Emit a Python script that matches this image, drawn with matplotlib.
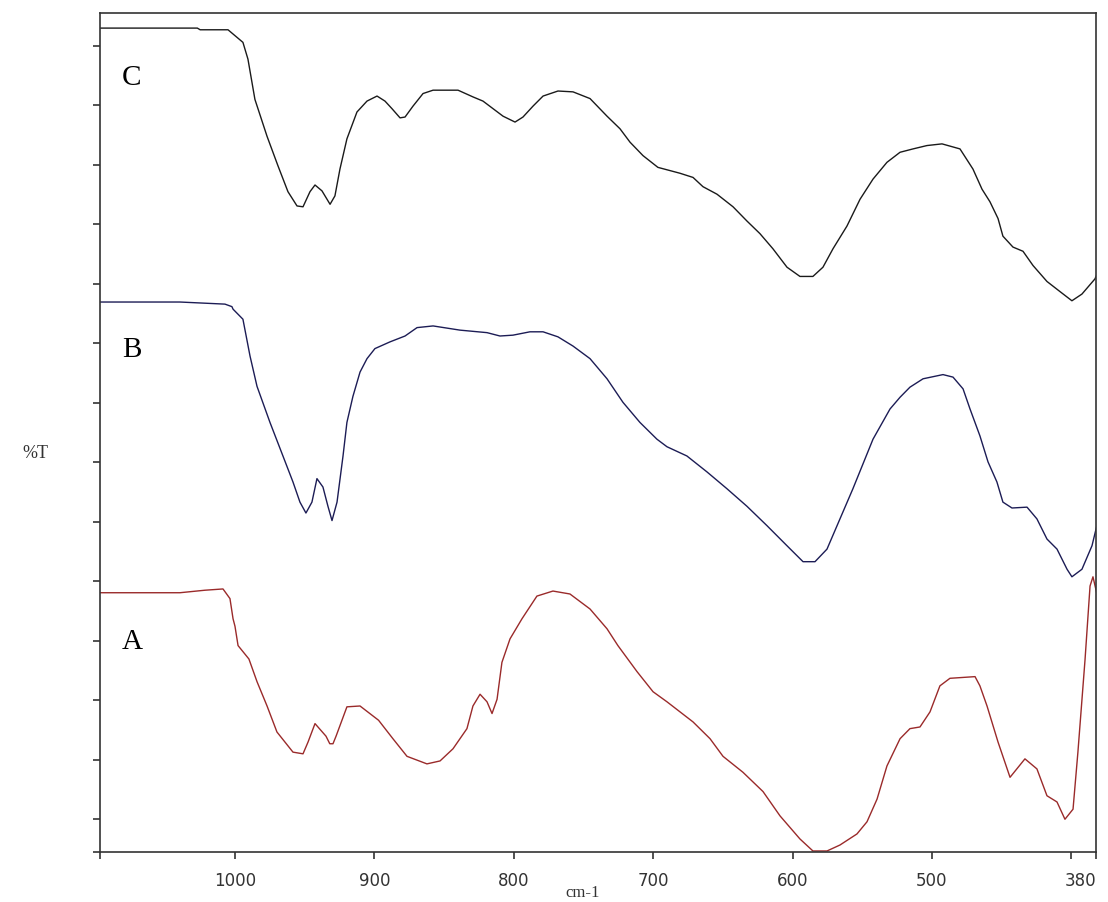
import numpy as np
import matplotlib
matplotlib.use('Agg')
from matplotlib import pyplot as plt

# wavenumber (cm-1) / %T
wn_c = [1097, 1027, 1025, 1005, 994.3, 990.7, 985.7, 977.0, 969.2, 962.0, 955.5, 951.2,
        946.2, 942.6, 937.6, 931.8, 928.3, 924.7, 919.7, 912.5, 905.3, 898.1, 892.4,
        887.4, 881.6, 878.0, 872.3, 865.1, 857.9, 840.0, 829.3, 822.1, 814.9, 807.7,
        799.1, 793.4, 786.2, 779.0, 768.3, 757.5, 745.3, 733.1, 723.8, 716.6, 707.3,
        696.6, 680.8, 671.4, 664.3, 654.2, 642.7, 632.7, 623.4, 614.1, 604.0, 594.7,
        585.4, 578.2, 571.0, 561.0, 551.6, 542.3, 532.3, 522.9, 513.6, 503.6, 492.8,
        479.9, 470.6, 464.1, 458.4, 452.6, 449.1, 441.9, 434.7, 427.5, 417.5, 408.2,
        399.6, 392.4, 383.1, 382.0]
t_c = [98.2, 98.2, 98.0, 98.0, 96.5, 94.5, 89.7, 85.3, 81.8, 78.7, 77.0, 76.9,
       78.7, 79.5, 78.8, 77.2, 78.2, 81.4, 85.0, 88.2, 89.5, 90.1, 89.5,
       88.6, 87.5, 87.6, 88.9, 90.4, 90.8, 90.8, 90.0, 89.5, 88.6, 87.7,
       87.0, 87.6, 88.9, 90.1, 90.7, 90.6, 89.8, 87.7, 86.2, 84.6, 83.0,
       81.6, 80.9, 80.4, 79.3, 78.4, 76.9, 75.2, 73.7, 71.9, 69.7, 68.6,
       68.6, 69.7, 71.9, 74.6, 77.8, 80.2, 82.2, 83.4, 83.8, 84.2, 84.4,
       83.8, 81.4, 79.0, 77.5, 75.5, 73.4, 72.1, 71.6, 69.9, 68.0, 66.8,
       65.7, 66.5, 68.3, 68.7]

wn_b = [1097, 1039.5, 1007.2, 1002.2, 1001.4, 994.3, 989.2, 984.2, 974.9, 965.6, 958.4,
        953.4, 949.1, 944.8, 941.2, 936.9, 933.3, 930.4, 926.8, 922.5, 919.7, 915.4,
        910.3, 905.3, 899.6, 888.8, 878.0, 869.4, 857.9, 838.6, 819.2, 809.9, 800.6,
        788.4, 779.0, 768.3, 757.5, 745.3, 733.1, 721.7, 709.5, 697.3, 690.1, 675.8,
        661.4, 647.1, 632.7, 618.4, 604.0, 592.5, 583.9, 575.3, 566.0, 556.7, 542.3,
        530.1, 522.9, 515.8, 506.4, 492.1, 484.9, 477.7, 472.7, 465.6, 459.8, 453.4,
        449.1, 442.6, 431.8, 424.7, 417.5, 410.3, 403.1, 399.6, 392.4, 385.2, 382.0]
t_b = [65.55, 65.55, 65.3, 65.0, 64.7, 63.5, 59.1, 55.5, 51.2, 47.2, 44.1,
       41.7, 40.4, 41.7, 44.5, 43.5, 41.2, 39.5, 41.7, 47.2, 51.2, 54.3,
       57.2, 58.8, 60.0, 60.8, 61.5, 62.5, 62.7, 62.2, 61.9, 61.5, 61.6,
       62.0, 62.0, 61.4, 60.3, 58.8, 56.4, 53.6, 51.2, 49.2, 48.3, 47.2,
       45.3, 43.3, 41.2, 38.9, 36.5, 34.6, 34.6, 36.1, 39.7, 43.3, 49.2,
       52.8, 54.2, 55.4, 56.4, 56.9, 56.6, 55.2, 52.8, 49.6, 46.5, 44.1,
       41.7, 41.0, 41.1, 39.7, 37.3, 36.1, 33.7, 32.8, 33.7, 36.5, 38.7]

wn_a = [1097, 1039.5, 1021.5, 1008.6, 1003.6, 1001.4, 1000.0, 997.8, 990.0, 984.2, 977.0,
        969.9, 958.4, 951.2, 947.6, 942.6, 934.7, 932.0, 929.7, 927.5, 919.7, 910.3,
        897.0, 886.7, 876.6, 862.3, 852.9, 843.6, 833.6, 829.3, 824.2, 819.2, 815.6,
        812.0, 808.5, 802.7, 794.1, 783.4, 771.9, 759.7, 745.3, 733.1, 725.3, 711.6,
        700.1, 690.1, 671.4, 659.2, 649.9, 635.6, 621.2, 609.0, 594.7, 585.4, 575.3,
        566.0, 553.8, 546.6, 539.4, 532.3, 522.9, 515.8, 508.6, 501.4, 494.3, 487.1,
        469.1, 465.6, 460.5, 452.6, 444.0, 433.3, 424.7, 417.5, 410.3, 404.6, 398.8,
        395.3, 390.2, 386.6, 384.5, 382.0]
t_a = [30.9, 30.9, 31.2, 31.35, 30.2, 27.8, 26.9, 24.6, 23.0, 20.3, 17.4,
       14.3, 11.9, 11.7, 13.1, 15.3, 13.8, 12.9, 12.9, 13.8, 17.3, 17.4,
       15.7, 13.5, 11.4, 10.5, 10.85, 12.3, 14.7, 17.4, 18.8, 17.9, 16.5,
       18.2, 22.6, 25.4, 27.8, 30.5, 31.1, 30.75, 28.96, 26.6, 24.6, 21.5,
       19.1, 17.9, 15.5, 13.5, 11.4, 9.5, 7.2, 4.3, 1.55, 0.12, 0.12,
       0.83, 2.15, 3.6, 6.3, 10.25, 13.5, 14.7, 14.9, 16.7, 19.8, 20.7,
       20.9, 19.8, 17.4, 13.1, 8.9, 11.1, 9.9, 6.7, 5.96, 3.9, 5.1,
       11.9, 22.9, 31.7, 32.8, 31.0]

labels = ['C', 'B', 'A']
label_pos = [(1074, 92.4), (1074, 60.0), (1074, 25.2)]
colors = ['#1a1a1a', '#1c1c55', '#9a2a2a']

x_ticks = [1096.8, 1000, 900, 800, 700, 600, 500, 400, 382.3]
x_ticklabels = ['', '1000', '900', '800', '700', '600', '500', '', '380']

fig = plt.figure(figsize=(11.08, 9.03), dpi=100)
ax = fig.add_axes([0.0903, 0.0554, 0.8989, 0.9291])

for wn, t, c in zip([wn_c, wn_b, wn_a], [t_c, t_b, t_a], colors):
    ax.plot(wn, t, color=c, lw=1.0)

for lab, (x, y) in zip(labels, label_pos):
    ax.text(x, y, lab, ha='center', va='center', fontsize=21,
            family='Liberation Serif', color='black')

ax.set_xlim(1096.8, 382.3)
ax.set_ylim(0, 100)

ax.set_xticks(x_ticks)
ax.set_xticklabels(x_ticklabels, fontsize=12, color='#333333')
ax.get_xticklabels()[-1].set_horizontalalignment('right')
# y ticks only, no values shown
ax.set_yticks([0] + list(3.93 + 7.09 * np.arange(14)))
ax.set_yticklabels([])
ax.tick_params(axis='both', direction='out', length=5, width=1.2, color='#333333')
ax.tick_params(axis='x', pad=9)
for s in ax.spines.values():
    s.set_linewidth(1.2)
    s.set_color('#333333')

fig.text(0.526, 0.011, 'cm-1', ha='center', va='center', fontsize=12,
         family='Liberation Serif', color='#333333')
fig.text(0.0316, 0.498, '%T', ha='center', va='center', fontsize=13,
         family='Liberation Serif', color='#333333')

fig.savefig('out.png', dpi=100)
